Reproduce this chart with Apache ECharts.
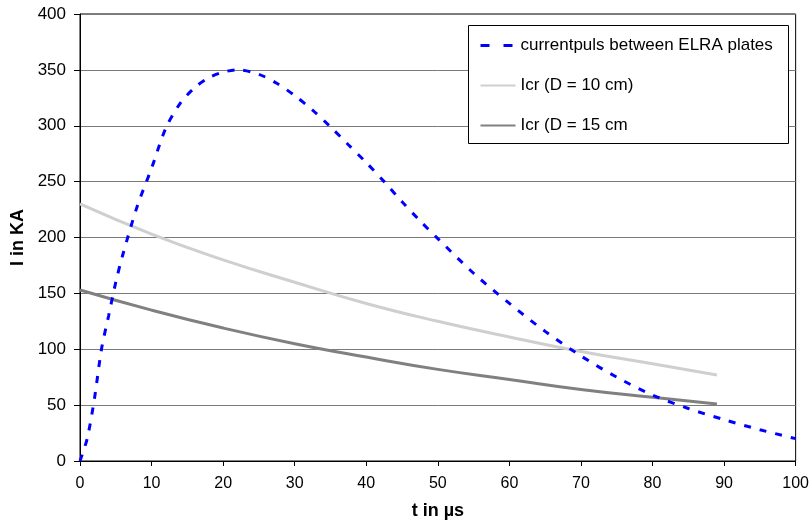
<!DOCTYPE html>
<html><head><meta charset="utf-8">
<script src="https://cdn.jsdelivr.net/npm/echarts@6/dist/echarts.min.js"></script>
<style>html,body{margin:0;padding:0;background:#fff}#c{width:812px;height:527px}</style>
</head><body><div id="c"></div>
<script>
const pulseT = [0,1,2,3,4,5,6,8,10,12,14,16,18,20,22,25,27.5,30,32.5,35,37.5,40,42.5,45,47.5,50,55,60,65,70,75,80,85,90,95,100];
const pulseI = [0,20,55,100,130,160,185,228,262,298,320,334,343,348,350,346,338,327,314,299,283,267,250,232,215,199,168,141,116,94,75,59,47,37,28,20];
const icrT = [0,10,20,30,40,50,60,70,80,89];
const icr10 = [230,203,180,160,141,125,111,98,87,77];
const icr15 = [153,135,119,105,93,82,73,64,57,51];
const names = ['currentpuls between ELRA plates','Icr (D = 10 cm)','Icr (D = 15 cm'];
const xTicks = [0,10,20,30,40,50,60,70,80,90,100];
const yTicks = [0,50,100,150,200,250,300,350,400];

const pair = (xs, ys) => xs.map((x, i) => [x, ys[i]]);
const font = 'Liberation Sans, Arial, sans-serif';
const chart = echarts.init(document.getElementById('c'));
chart.setOption({
  animation: false,
  textStyle: {fontFamily: font},
  grid: {left: 80, right: 15, top: 14, bottom: 66, show: true, borderColor: '#000', borderWidth: 1},
  xAxis: {
    type: 'value', min: xTicks[0], max: xTicks[xTicks.length - 1], interval: 10,
    name: 't in µs', nameLocation: 'middle', nameGap: 41,
    nameTextStyle: {fontWeight: 'bold', fontSize: 18, color: '#000', fontFamily: font},
    axisLine: {lineStyle: {color: '#000'}},
    axisTick: {show: true, length: 5, lineStyle: {color: '#000'}},
    axisLabel: {color: '#000', fontSize: 16, margin: 15, fontFamily: font},
    splitLine: {show: false}
  },
  yAxis: {
    type: 'value', min: yTicks[0], max: yTicks[yTicks.length - 1], interval: 50,
    name: 'I in KA', nameLocation: 'middle', nameGap: 48, nameRotate: 90,
    nameTextStyle: {fontWeight: 'bold', fontSize: 18, color: '#000', fontFamily: font},
    axisLine: {show: true, lineStyle: {color: '#000'}},
    axisTick: {show: true, length: 6, lineStyle: {color: '#000'}},
    axisLabel: {color: '#000', fontSize: 17, margin: 14, fontFamily: font},
    splitLine: {show: true, lineStyle: {color: '#7a7a7a', width: 1}}
  },
  graphic: [{type: 'rect', left: 468, top: 25, shape: {width: 320, height: 118},
    style: {fill: '#fff', stroke: '#000', lineWidth: 1}, z: 50}],
  legend: {
    orient: 'vertical', left: 479, top: 37, itemWidth: 35, itemHeight: 17, itemGap: 23,
    padding: 0, z: 60,
    itemStyle: {opacity: 0},
    textStyle: {color: '#000', fontSize: 17, fontFamily: font},
    data: [
      {name: names[0], lineStyle: {type: [9, 14], width: 3}},
      {name: names[1]},
      {name: names[2]}
    ]
  },
  series: [
    {name: names[0], type: 'line', data: pair(pulseT, pulseI), smooth: 0.3, showSymbol: false, symbol: 'none',
     lineStyle: {color: '#0000ff', width: 3, type: [7, 9]}, itemStyle: {color: '#0000ff'}, z: 5},
    {name: names[1], type: 'line', data: pair(icrT, icr10), smooth: true, showSymbol: false, symbol: 'none',
     lineStyle: {color: '#cfcfcf', width: 3}, itemStyle: {color: '#cfcfcf'}, z: 3},
    {name: names[2], type: 'line', data: pair(icrT, icr15), smooth: true, showSymbol: false, symbol: 'none',
     lineStyle: {color: '#808080', width: 3}, itemStyle: {color: '#808080'}, z: 4}
  ]
});
</script></body></html>
